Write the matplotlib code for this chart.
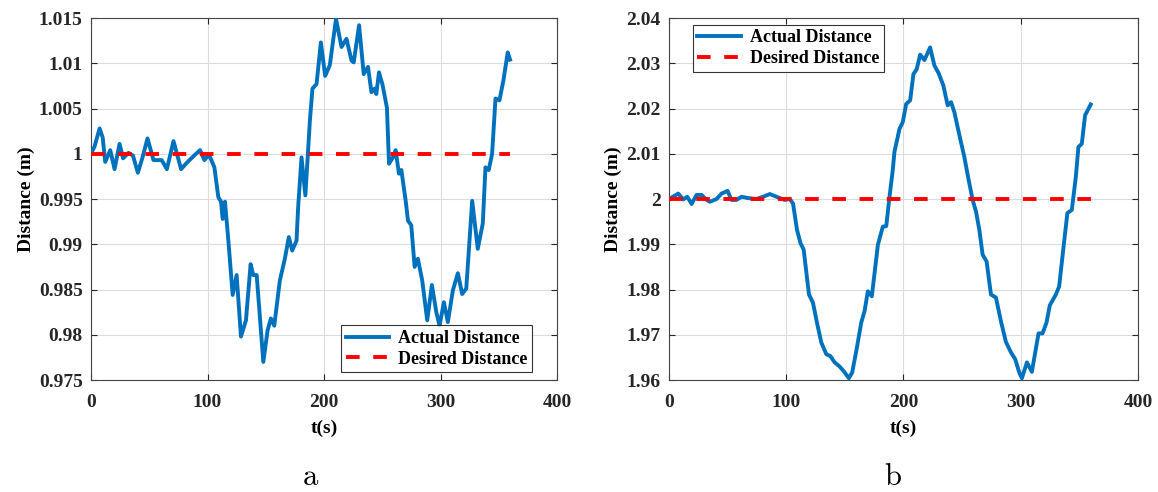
import numpy as np
import matplotlib
matplotlib.use('Agg')
import matplotlib.pyplot as plt
from matplotlib.ticker import FuncFormatter

# ---- data (a): desired distance 1 m ----
t_a = [0, 3, 7.4, 10, 12.2, 16.5, 20.2, 24.5, 27.5, 32.2, 36, 40.2, 44.2, 48.5,
       53.6, 60.7, 65.1, 70.8, 77.3, 82.2, 89.3, 93.6, 97.3, 101.3, 105.9, 109.3,
       111.6, 113, 115, 117.9, 121.6, 125, 128.7, 133, 137, 139.3, 142.2, 147.9,
       151.6, 154.4, 157.3, 162.1, 166.4, 169.8, 172.7, 176.4, 177.8, 180.7, 184.0,
       187.9, 190.1, 193.6, 197.3, 201.0, 205.0, 210.3, 215, 219.3, 223.6, 225.5,
       230.1, 234.1, 237.8, 240.7, 243.5, 244.9, 247.2, 250.1, 254, 255.8, 259.2,
       261.5, 264.3, 266.4, 270.1, 272.1, 274.9, 277.8, 280.6, 284.3, 288.6, 292.6,
       296.4, 299.2, 302.9, 306.3, 310.6, 314.9, 318.6, 322.1, 327.2, 332, 336.3,
       338.6, 341.4, 344.3, 347.2, 350.6, 354, 357.7, 359.7]
d_a = [1.0, 1.0008, 1.0028, 1.0018, 0.9991, 1.0004, 0.9983, 1.0011, 0.9995, 1.0001,
       0.9998, 0.9979, 0.9996, 1.0017, 0.9993, 0.9993, 0.9983, 1.0014, 0.9983, 0.9990,
       0.9999, 1.0004, 0.9993, 0.9999, 0.9985, 0.9952, 0.9947, 0.9928, 0.9947, 0.9904,
       0.9844, 0.9866, 0.9798, 0.9816, 0.9878, 0.9866, 0.9866, 0.9770, 0.9805, 0.9818,
       0.9810, 0.9860, 0.9884, 0.9908, 0.9893, 0.9904, 0.9941, 0.9996, 0.9954, 1.0037,
       1.0072, 1.0077, 1.0123, 1.0086, 1.0098, 1.0149, 1.0118, 1.0127, 1.0103, 1.0101,
       1.0142, 1.0088, 1.0096, 1.0068, 1.0072, 1.0066, 1.0090, 1.0077, 1.0051, 0.9989,
       0.9996, 1.0004, 0.9978, 0.9982, 0.9948, 0.9926, 0.9921, 0.9875, 0.9884, 0.9860,
       0.9816, 0.9855, 0.9825, 0.9810, 0.9836, 0.9814, 0.9849, 0.9868, 0.9845, 0.9851,
       0.9948, 0.9895, 0.9923, 0.9985, 0.9982, 1.0, 1.0061, 1.0059, 1.0081, 1.0112,
       1.0104]

# ---- data (b): desired distance 2 m ----
t_b = [0, 4, 7.9, 12.2, 15.6, 19.3, 23.5, 27.8, 32.1, 34.9, 40.6, 44.8, 50, 53.3,
       57.6, 61.9, 67.5, 74.6, 80.3, 86, 91.7, 98.7, 103, 105.8, 109.2, 112.1, 114.9,
       117.2, 119.4, 122.8, 126.2, 129.9, 134.2, 137.6, 141.3, 145.5, 148.9, 153.4,
       156.3, 160.3, 164, 166.8, 169.6, 173, 178.2, 182.4, 185.3, 188.1, 190.9, 192.3,
       196.6, 199.4, 202.3, 205.7, 208.5, 211.3, 214.2, 217.9, 222.7, 226.4, 230, 234,
       237.7, 240.6, 243.4, 247.7, 251.9, 255.6, 259, 261.9, 264.7, 267.5, 270.9,
       274.6, 278.9, 283.1, 287.4, 291.7, 295.3, 298.7, 301, 305.3, 309.5, 315.2,
       318.6, 322, 324.8, 330, 332.8, 335.6, 339.8, 343.6, 347, 349.2, 352.1, 354.9,
       357.7, 359.7]
d_b = [2.0, 2.0006, 2.0012, 1.9999, 2.0005, 1.9989, 2.0009, 2.0009, 1.9998, 1.9994,
       2.0, 2.0012, 2.0018, 1.9998, 1.9998, 2.0005, 2.0002, 2.0, 2.0005, 2.0011,
       2.0005, 1.9998, 2.0, 1.9990, 1.9932, 1.9903, 1.9888, 1.9837, 1.9789, 1.9771,
       1.9727, 1.9683, 1.9657, 1.9653, 1.9639, 1.9630, 1.9620, 1.9604, 1.9617, 1.9672,
       1.9727, 1.9752, 1.9796, 1.9785, 1.9899, 1.9939, 1.9940, 2.0005, 2.0065, 2.0104,
       2.0155, 2.0170, 2.0210, 2.0218, 2.0276, 2.0287, 2.0319, 2.0307, 2.0335, 2.0295,
       2.0278, 2.0251, 2.0207, 2.0214, 2.0192, 2.0141, 2.0093, 2.0042, 1.9998, 1.9972,
       1.9932, 1.9877, 1.9862, 1.9789, 1.9782, 1.9730, 1.9684, 1.9661, 1.9646, 1.9617,
       1.9604, 1.9639, 1.9618, 1.9703, 1.9703, 1.9727, 1.9765, 1.9789, 1.9807, 1.9873,
       1.9969, 1.9976, 2.0049, 2.0115, 2.0122, 2.0185, 2.0199, 2.0209]

desired_a = 1.0
desired_b = 2.0
t_end = 360

BLUE = '#0072BD'
RED = '#FF0000'

plt.rcParams['font.family'] = 'Liberation Serif'
plt.rcParams['font.weight'] = 'bold'
plt.rcParams['mathtext.fontset'] = 'cm'

fig = plt.figure(figsize=(11.58, 4.92), dpi=100)
ax_a = fig.add_axes([0.0786, 0.2276, 0.4024, 0.7358])
ax_b = fig.add_axes([0.5777, 0.2276, 0.4050, 0.7358])


def style(ax, t, d, desired, ylim, yticks, leg_loc, leg_anchor):
    ax.plot(t, d, color=BLUE, lw=2.8, label='Actual Distance', zorder=3)
    ax.plot([0, t_end], [desired, desired], color=RED, lw=2.8,
            dashes=(3.5, 3.5), label='Desired Distance', zorder=4)
    ax.set_xlim(0, 400)
    ax.set_ylim(*ylim)
    ax.set_xticks([0, 100, 200, 300, 400])
    ax.set_yticks(yticks)
    ax.yaxis.set_major_formatter(FuncFormatter(lambda v, p: f'{v:g}'))
    ax.grid(True, color='#dcdcdc', lw=0.8)
    ax.set_axisbelow(True)
    ax.tick_params(direction='in', length=4, width=0.8, top=True, right=True,
                   labelsize=14, colors='#262626')
    ax.tick_params(axis='x', pad=10)
    ax.tick_params(axis='y', pad=6)
    for s in ax.spines.values():
        s.set_color('#444444')
        s.set_linewidth(0.8)
    ax.set_xlabel('t(s)', fontsize=14, fontweight='bold', labelpad=6)
    ax.set_ylabel('Distance (m)', fontsize=14, fontweight='bold', labelpad=3)
    leg = ax.legend(loc=leg_loc, bbox_to_anchor=leg_anchor, fontsize=13,
                    frameon=True, fancybox=False, edgecolor='black',
                    handlelength=2.4, borderpad=0.25, labelspacing=0.2,
                    handletextpad=0.5, borderaxespad=0)
    leg.get_frame().set_linewidth(0.8)


style(ax_a, t_a, d_a, desired_a, (0.975, 1.015),
      [0.975, 0.98, 0.985, 0.99, 0.995, 1.0, 1.005, 1.01, 1.015],
      'lower right', (0.946, 0.022))
style(ax_b, t_b, d_b, desired_b, (1.96, 2.04),
      [1.96, 1.97, 1.98, 1.99, 2.0, 2.01, 2.02, 2.03, 2.04],
      'upper left', (0.051, 0.981))

fig.text(0.2686, 0.03, r'$\mathrm{a}$', ha='center', va='center', fontsize=22)
fig.text(0.771, 0.03, r'$\mathrm{b}$', ha='center', va='center', fontsize=22)

fig.savefig('out.png', dpi=100)
